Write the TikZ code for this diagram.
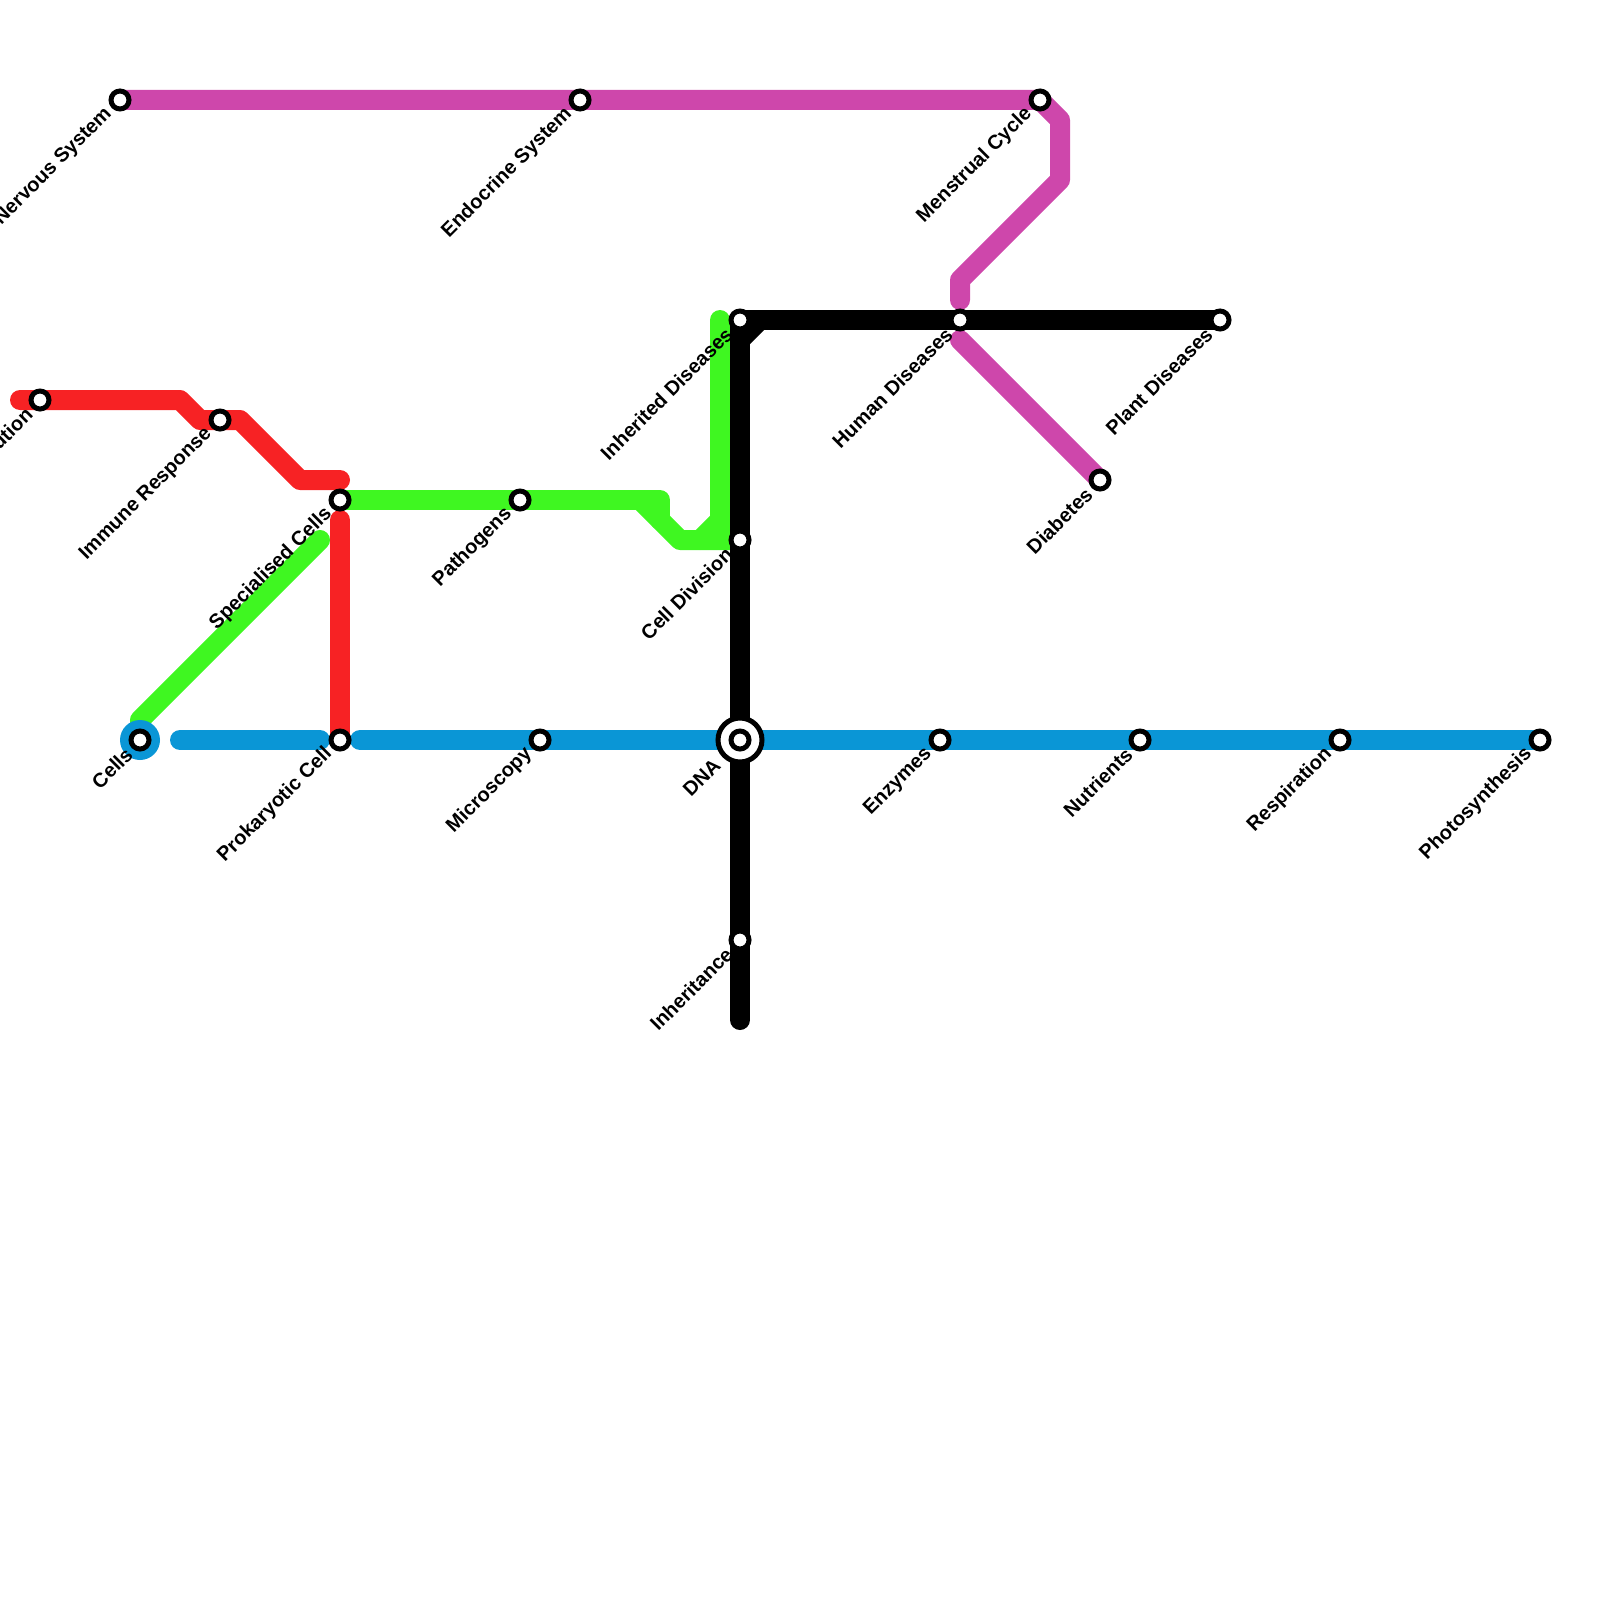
\documentclass[tikz,border=0pt]{standalone}
\usepackage{fontspec}
\setmainfont{Liberation Sans}
\usepackage{xcolor}
\usetikzlibrary{backgrounds}
\definecolor{lineblue}{HTML}{0A96D6}
\definecolor{linered}{HTML}{F72224}
\definecolor{linegreen}{HTML}{3FF721}
\definecolor{linepink}{HTML}{CE47AB}

\begin{document}
\begin{tikzpicture}[
  x=1pt, y=-1pt,
  line/.style={line width=20pt, line cap=round, line join=round},
  stn/.style={circle, draw=black, line width=5pt, fill=white, minimum size=18pt, inner sep=0pt, outer sep=0pt},
  hub/.style={circle, draw=black, line width=5pt, fill=white, minimum size=44pt, inner sep=0pt, outer sep=0pt},
  lbl/.style={rotate=45, anchor=east, font=\fontsize{20pt}{20pt}\selectfont\bfseries, inner sep=0pt}
]
  \useasboundingbox (0,0) rectangle (1600,1600);

  % stations
  \node[stn] (nervous) at (120,100) {};
  \node[stn] (endocrine) at (580,100) {};
  \node[stn] (menstrual) at (1040,100) {};
  \node[stn] (evolution) at (40,400) {};
  \node[stn] (immune) at (220,420) {};
  \node[stn] (specialised) at (340,500) {};
  \node[stn] (pathogens) at (520,500) {};
  \node[stn] (cells) at (140,740) {};
  \node[stn] (prokaryotic) at (340,740) {};
  \node[stn] (microscopy) at (540,740) {};
  \node[hub] (dnaring) at (740,740) {};
  \node[stn] (dna) at (740,740) {};
  \node[stn] (enzymes) at (940,740) {};
  \node[stn] (nutrients) at (1140,740) {};
  \node[stn] (respiration) at (1340,740) {};
  \node[stn] (photosynthesis) at (1540,740) {};
  \node[stn] (inherited) at (740,320) {};
  \node[stn] (human) at (960,320) {};
  \node[stn] (plant) at (1220,320) {};
  \node[stn] (division) at (740,540) {};
  \node[stn] (inheritance) at (740,940) {};
  \node[stn] (diabetes) at (1100,480) {};

  % labels
  \node[lbl] (nervoust) at (109,111) {Nervous System};
  \node[lbl] (endocrinet) at (569,111) {Endocrine System};
  \node[lbl] (menstrualt) at (1029,111) {Menstrual Cycle};
  \node[lbl] (evolutiont) at (29,411) {Evolution};
  \node[lbl] (immunet) at (209,431) {Immune Response};
  \node[lbl] (specialisedt) at (329,511) {Specialised Cells};
  \node[lbl] (pathogenst) at (509,511) {Pathogens};
  \node[lbl] (cellst) at (129,751) {Cells};
  \node[lbl] (prokaryotict) at (329,751) {Prokaryotic Cell};
  \node[lbl] (microscopyt) at (529,751) {Microscopy};
  \node[lbl] (dnat) at (717,762) {DNA};
  \node[lbl] (enzymest) at (929,751) {Enzymes};
  \node[lbl] (nutrientst) at (1129,751) {Nutrients};
  \node[lbl] (respirationt) at (1329,751) {Respiration};
  \node[lbl] (photosynthesist) at (1529,751) {Photosynthesis};
  \node[lbl] (inheritedt) at (729,331) {Inherited Diseases};
  \node[lbl] (humant) at (949,331) {Human Diseases};
  \node[lbl] (plantt) at (1209,331) {Plant Diseases};
  \node[lbl] (divisiont) at (729,551) {Cell Division};
  \node[lbl] (inheritancet) at (729,951) {Inheritance};
  \node[lbl] (diabetest) at (1089,491) {Diabetes};

  % bends and free ends
  \coordinate (r1) at (20,400);
  \coordinate (r2) at (180,400);
  \coordinate (r3) at (200,420);
  \coordinate (r4) at (240,420);
  \coordinate (r5) at (300,480);
  \coordinate (r6) at (340,480);
  \coordinate (r7) at (340,520);
  \coordinate (p1) at (1060,120);
  \coordinate (p2) at (1060,180);
  \coordinate (p3) at (960,280);
  \coordinate (p4) at (960,300);
  \coordinate (p5) at (960,340);
  \coordinate (g1) at (660,500);
  \coordinate (g2) at (660,520);
  \coordinate (g3) at (640,500);
  \coordinate (g4) at (680,540);
  \coordinate (g5) at (700,540);
  \coordinate (g6) at (720,520);
  \coordinate (g7) at (720,320);
  \coordinate (g8) at (140,720);
  \coordinate (g9) at (320,540);
  \coordinate (g10) at (720,540);
  \coordinate (b1) at (180,740);
  \coordinate (b2) at (320,740);
  \coordinate (b3) at (360,740);
  \coordinate (k1) at (740,1020);
  \coordinate (k2) at (740,340);
  \coordinate (k3) at (760,320);

  \begin{pgfonlayer}{background}
    \draw[line, linered] (r1) -- (evolution.center) -- (r2) -- (r3) -- (immune.center) -- (r4) -- (r5) -- (r6);
    \draw[line, linered] (r7) -- (prokaryotic.center);
    \draw[line, linepink] (nervous.center) -- (endocrine.center) -- (menstrual.center) -- (p1) -- (p2) -- (p3) -- (p4);
    \draw[line, linepink] (p5) -- (diabetes.center);
    \draw[line, linegreen] (cells.center) -- (g8) -- (g9);
    \draw[line, linegreen] (specialised.center) -- (pathogens.center) -- (g1) -- (g2);
    \draw[line, linegreen] (g3) -- (g4) -- (division.center);
    \draw[line, linegreen] (g5) -- (g6) -- (g7);
    \draw[line, linegreen] (g6) -- (g10);
    \node[circle, fill=lineblue, minimum size=40pt, inner sep=0pt] (cellsdot) at (cells) {};
    \draw[line, lineblue] (b1) -- (b2);
    \draw[line, lineblue] (b3) -- (microscopy.center) -- (dna.center) -- (enzymes.center) -- (nutrients.center) -- (respiration.center) -- (photosynthesis.center);
    \draw[line, black] (k1) -- (inheritance.center) -- (dna.center) -- (division.center) -- (inherited.center) -- (human.center) -- (plant.center);
    \draw[line, black] (k2) -- (k3);
  \end{pgfonlayer}
\end{tikzpicture}
\end{document}
